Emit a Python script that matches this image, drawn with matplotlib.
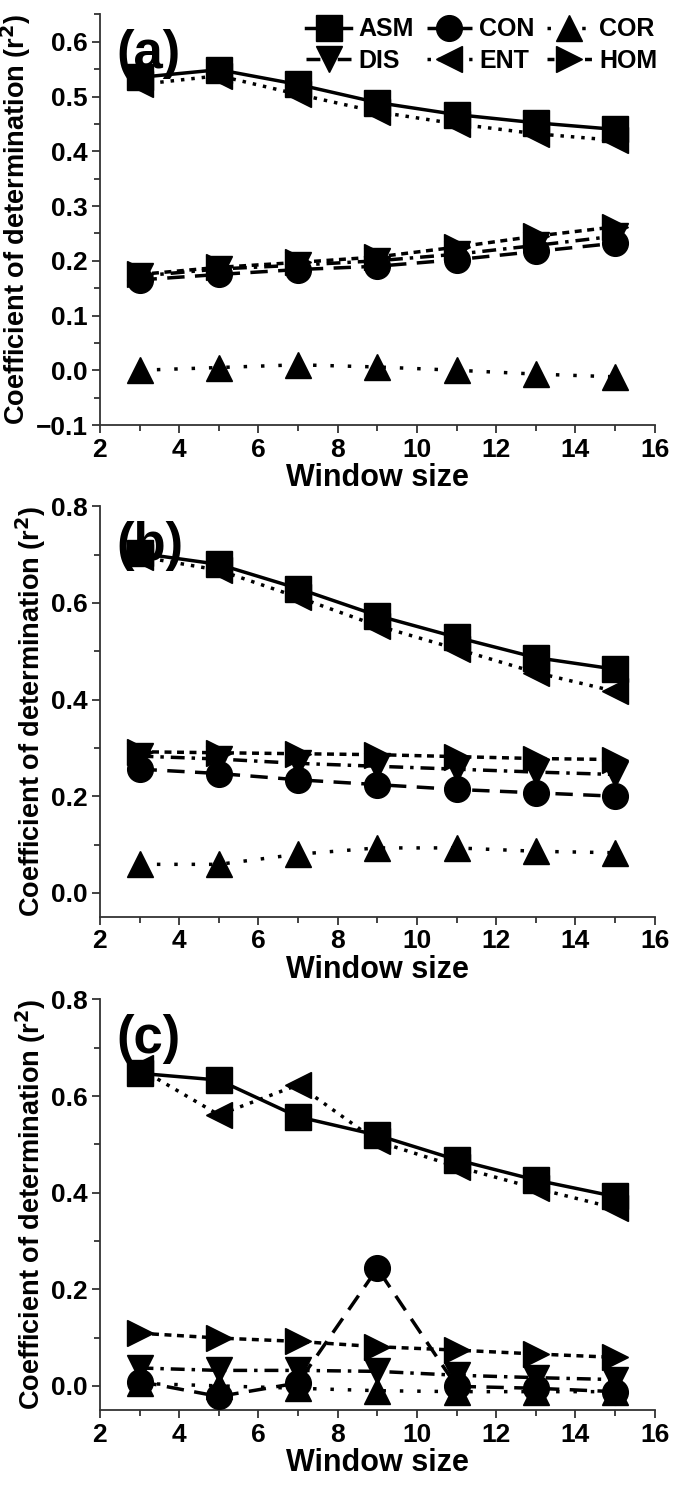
import numpy as np
import matplotlib
matplotlib.use('Agg')
import matplotlib.pyplot as plt
from matplotlib.ticker import MultipleLocator

plt.rcParams['font.family'] = ['Liberation Sans', 'DejaVu Sans']
plt.rcParams['font.weight'] = 'bold'

window = [3, 5, 7, 9, 11, 13, 15]

# panel (a)
asm_a = [0.535, 0.549, 0.522, 0.489, 0.467, 0.452, 0.440]
con_a = [0.165, 0.175, 0.184, 0.190, 0.202, 0.217, 0.232]
cor_a = [0.000, 0.005, 0.010, 0.006, 0.000, -0.007, -0.012]
dis_a = [0.172, 0.185, 0.192, 0.200, 0.212, 0.228, 0.245]
ent_a = [0.522, 0.538, 0.504, 0.472, 0.450, 0.432, 0.420]
hom_a = [0.175, 0.188, 0.197, 0.207, 0.225, 0.245, 0.262]

# panel (b)
asm_b = [0.703, 0.680, 0.630, 0.574, 0.529, 0.487, 0.463]
con_b = [0.256, 0.247, 0.234, 0.224, 0.214, 0.207, 0.200]
cor_b = [0.059, 0.059, 0.080, 0.093, 0.093, 0.086, 0.083]
dis_b = [0.283, 0.277, 0.268, 0.262, 0.256, 0.250, 0.245]
ent_b = [0.696, 0.668, 0.612, 0.553, 0.505, 0.456, 0.417]
hom_b = [0.292, 0.290, 0.288, 0.286, 0.282, 0.278, 0.276]

# panel (c)
asm_c = [0.647, 0.633, 0.557, 0.519, 0.468, 0.426, 0.392]
con_c = [0.009, -0.022, 0.006, 0.243, -0.001, -0.005, -0.012]
cor_c = [0.005, 0.000, -0.005, -0.010, -0.012, -0.012, -0.012]
dis_c = [0.037, 0.032, 0.032, 0.030, 0.022, 0.017, 0.013]
ent_c = [0.657, 0.561, 0.623, 0.506, 0.454, 0.409, 0.368]
hom_c = [0.109, 0.099, 0.092, 0.081, 0.074, 0.066, 0.059]

names = ['ASM', 'CON', 'COR', 'DIS', 'ENT', 'HOM']
markers = ['s', 'o', '^', 'v', '<', '>']
styles = ['-', (0, (5, 3)), (0, (1, 4)), (0, (4, 2, 1, 2)), (0, (1, 2)), (0, (2, 1.6))]

panels = [
    ('(a)', [asm_a, con_a, cor_a, dis_a, ent_a, hom_a], (-0.1, 0.65), 0.1, 0.05),
    ('(b)', [asm_b, con_b, cor_b, dis_b, ent_b, hom_b], (-0.05, 0.8), 0.2, 0.1),
    ('(c)', [asm_c, con_c, cor_c, dis_c, ent_c, hom_c], (-0.05, 0.8), 0.2, 0.1),
]
bottoms = [0.7138, 0.3825, 0.0505]

fig = plt.figure(figsize=(6.75, 14.85), dpi=100)
handles = []
for k, (tag, series, ylim, major, minor) in enumerate(panels):
    ax = fig.add_axes([0.148, bottoms[k], 0.822, 0.2765])
    for i in range(6):
        ln, = ax.plot(window, series[i], color='black', lw=2.5, ls=styles[i],
                      marker=markers[i], ms=18.5, zorder=3 + (6 - i) * 0.1)
        if k == 0:
            handles.append(ln)
    ax.set_xlim(2, 16)
    ax.set_ylim(*ylim)
    ax.xaxis.set_major_locator(MultipleLocator(2))
    ax.xaxis.set_minor_locator(MultipleLocator(1))
    ax.yaxis.set_major_locator(MultipleLocator(major))
    ax.yaxis.set_minor_locator(MultipleLocator(minor))
    ax.spines['top'].set_visible(False)
    ax.spines['right'].set_visible(False)
    for s in ['left', 'bottom']:
        ax.spines[s].set_color('#333333')
        ax.spines[s].set_linewidth(1.3)
    ax.tick_params(which='major', direction='out', length=6, width=1.3, color='#333333',
                   labelsize=19, pad=3)
    ax.tick_params(which='minor', direction='out', length=4, width=1.3, color='#333333')
    ax.set_xlabel('Window size', fontsize=22, fontweight='bold', labelpad=1)
    ax.set_ylabel('Coefficient of determination (r$^2$)', fontsize=19.5, fontweight='bold',
                  labelpad=2)
    ax.text(0.03, 0.965, tag, transform=ax.transAxes, fontsize=38, fontweight='bold',
            va='top', ha='left')

order = [0, 3, 1, 4, 2, 5]
fig.legend([handles[i] for i in order], [names[i] for i in order], ncol=3,
           frameon=False, loc='upper right', bbox_to_anchor=(1.0, 1.0),
           prop={'weight': 'bold', 'size': 18},
           handlelength=1.8, handletextpad=0.3, columnspacing=0.5, labelspacing=0.3,
           markerscale=1.0, borderaxespad=0.3)

fig.savefig('out.png', dpi=100)
